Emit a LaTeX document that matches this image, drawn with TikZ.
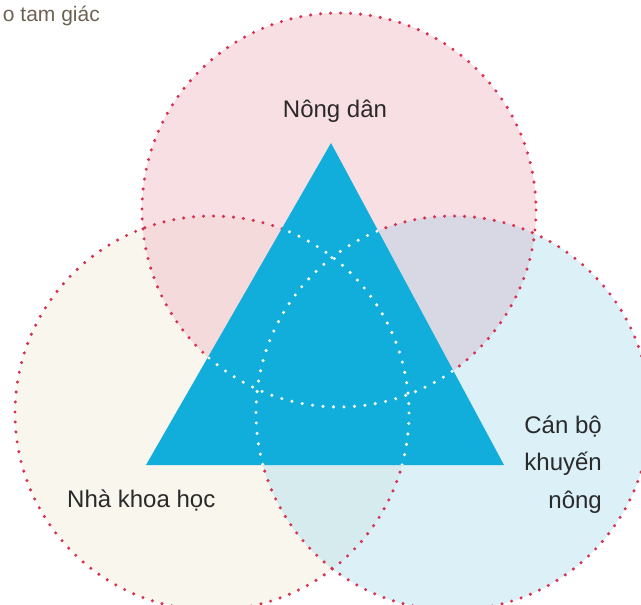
\documentclass[tikz,border=0pt]{standalone}
\usepackage{fontspec}
\setmainfont{Liberation Sans}
\begin{document}
\begin{tikzpicture}[x=1pt,y=-1pt,
  reddots/.style={draw=dotred, line width=3.4pt, line cap=round, dash pattern=on 0pt off 10pt},
  whitedots/.style={draw=white, line width=3.4pt, line cap=round, dash pattern=on 0pt off 10.5pt},
  lbl/.style={text=labelgray, font=\fontsize{24}{37.5}\selectfont, inner sep=0pt}]
\definecolor{dotred}{HTML}{D8304F}
\definecolor{pinkfill}{HTML}{F8DFE4}
\definecolor{creamfill}{HTML}{F9F6EE}
\definecolor{bluefill}{HTML}{DBF0F7}
\definecolor{pinkcream}{HTML}{F5DADB}
\definecolor{pinkblue}{HTML}{D7D8E3}
\definecolor{creamblue}{HTML}{D5EBEE}
\definecolor{triblue}{HTML}{12AEDB}
\definecolor{labelgray}{HTML}{2A2A2A}
\definecolor{captionbrown}{HTML}{6E6254}
\useasboundingbox (0,0) rectangle (641,605);
\clip (0,0) rectangle (641,605);
\def\rad{197}
% circle centres
\coordinate (cT) at (339,210);
\coordinate (cL) at (212,413);
\coordinate (cR) at (453,413);
% triangle corners
\coordinate (tA) at (331,143);
\coordinate (tB) at (146,465);
\coordinate (tC) at (504,465);

% circle fills
\fill[pinkfill] (cT) circle (\rad);
\fill[creamfill] (cL) circle (\rad);
\fill[bluefill] (cR) circle (\rad);
% overlap fills
\begin{scope}
  \clip (cT) circle (\rad);
  \fill[pinkcream] (cL) circle (\rad);
  \fill[pinkblue] (cR) circle (\rad);
\end{scope}
\begin{scope}
  \clip (cL) circle (\rad);
  \fill[creamblue] (cR) circle (\rad);
\end{scope}

% dotted outlines
\draw[reddots] (cT) circle (\rad);
\draw[reddots] (cL) circle (\rad);
\draw[reddots] (cR) circle (\rad);

% central triangle
\fill[triblue] (tA) -- (tB) -- (tC) -- cycle;

% outlines continue in white inside the triangle
\begin{scope}
  \clip (tA) -- (tB) -- (tC) -- cycle;
  \draw[whitedots] (cT) circle (\rad);
  \draw[whitedots] (cL) circle (\rad);
  \draw[whitedots] (cR) circle (\rad);
\end{scope}

% labels
\node[lbl, anchor=base] (nongdan) at (335,117) {Nông dân};
\node[lbl, anchor=base west] (nhakhoahoc) at (67,507) {Nhà khoa học};
\node[lbl, anchor=base east, align=right] (canbo) at (602,508) {Cán bộ\\khuyến\\nông};
\node[text=captionbrown, font=\fontsize{21}{24}\selectfont, inner sep=0pt, anchor=base east] (caption) at (100,21) {o tam giác};
\end{tikzpicture}
\end{document}
